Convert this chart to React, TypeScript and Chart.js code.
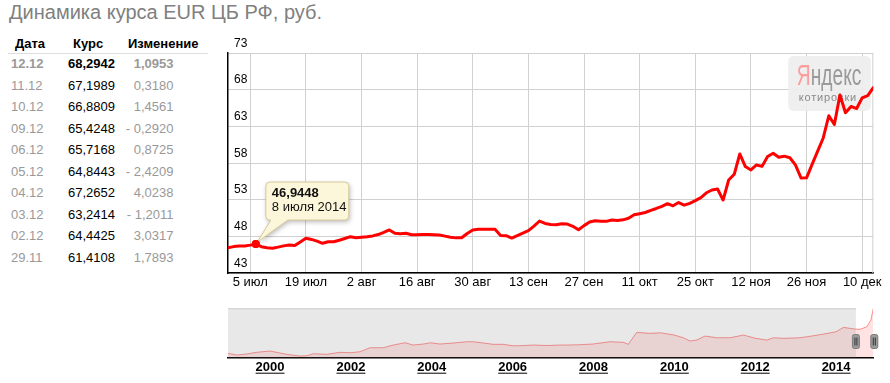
import React, { useEffect, useRef } from "react";
import { Chart, registerables } from "chart.js";

Chart.register(...registerables);

const FONT = 'Arial, "Liberation Sans", Helvetica, sans-serif';
Chart.defaults.font.family = FONT;

const titleText = "Динамика курса EUR ЦБ РФ, руб.";
const tableHeaders = ["Дата", "Курс", "Изменение"];
const tableDates = ["12.12", "11.12", "10.12", "09.12", "06.12", "05.12", "04.12", "03.12", "02.12", "29.11"];
const tableRates = ["68,2942", "67,1989", "66,8809", "65,4248", "65,7168", "64,8443", "67,2652", "63,2414", "64,4425", "61,4108"];
const tableChanges = ["1,0953", "0,3180", "1,4561", "- 0,2920", "0,8725", "- 2,4209", "4,0238", "- 1,2011", "3,0317", "1,7893"];

// Daily (business day) EUR rate, index 0 .. 116
const rates = [
  46.45, 46.6, 46.68, 46.68, 46.8, 46.9448, 46.59, 46.45, 46.37, 46.53,
  46.7, 46.82, 46.75, 47.23, 47.73, 47.58, 47.35, 47.05, 47.27, 47.27,
  47.46, 47.7, 47.95, 47.8, 47.88, 47.95, 48.06, 48.24, 48.54, 48.87,
  48.41, 48.36, 48.41, 48.22, 48.21, 48.25, 48.26, 48.22, 48.18, 48.03,
  47.87, 47.79, 47.8, 48.39, 48.86, 48.96, 48.98, 48.97, 48.95, 48.11,
  48.09, 47.77, 48.1, 48.44, 48.77, 49.4, 50.09, 49.76, 49.61, 49.57,
  49.72, 49.67, 49.37, 48.89, 49.46, 49.95, 50.13, 50.06, 50.04, 50.23,
  50.17, 50.25, 50.47, 50.94, 51.09, 51.25, 51.54, 51.8, 52.08, 52.45,
  52.16, 52.61, 52.25, 52.5, 52.87, 53.27, 53.94, 54.32, 54.46, 52.95,
  55.68, 56.46, 59.23, 57.52, 57.05, 57.73, 57.54, 58.89, 59.32, 58.78,
  58.93, 58.71, 57.74, 55.96, 55.98, 57.82, 59.6215, 61.4108, 64.4425, 63.2414,
  67.2652, 64.8443, 65.7168, 65.4248, 66.8809, 67.1989, 68.2942,
];
const tickIndices = [4, 14, 24, 34, 44, 54, 64, 74, 84, 94, 104, 114];
const tickLabels = ["5 июл", "19 июл", "2 авг", "16 авг", "30 авг", "13 сен", "27 сен", "11 окт", "25 окт", "12 ноя", "26 ноя", "10 дек"];
const yTicks = [43, 48, 53, 58, 63, 68, 73];
const highlightIndex = 5;
const highlightDate = "8 июля 2014";

// Navigator (long history)
const navYears = [
  1998.96, 1999.18, 1999.42, 1999.67, 2000.0, 2000.21, 2000.41, 2000.74, 2000.91, 2001.07,
  2001.4, 2001.57, 2001.73, 2001.98, 2002.23, 2002.47, 2002.8, 2003.05, 2003.34, 2003.54,
  2003.79, 2003.97, 2004.2, 2004.53, 2004.87, 2005.03, 2005.28, 2005.52, 2005.77, 2006.0,
  2006.18, 2006.51, 2006.85, 2007.17, 2007.34, 2007.65, 2007.98, 2008.41, 2008.74, 2008.86,
  2009.07, 2009.4, 2009.65, 2010.0, 2010.22, 2010.39, 2010.55, 2010.76, 2011.05, 2011.38,
  2011.71, 2012.01, 2012.29, 2012.45, 2012.7, 2013.11, 2013.44, 2013.69, 2014.0, 2014.18,
  2014.35, 2014.47, 2014.59, 2014.76, 2014.86, 2014.92,
];
const navValues = [
  23.4, 21.7, 22.7, 24.4, 25.7, 24.0, 22.4, 20.7, 21.0, 23.0,
  22.4, 23.4, 24.4, 24.0, 25.0, 29.0, 29.0, 31.7, 34.0, 31.7,
  32.7, 34.0, 32.7, 33.7, 35.0, 35.0, 33.7, 32.4, 32.4, 31.0,
  31.0, 31.7, 31.2, 31.7, 31.7, 32.0, 32.7, 35.0, 34.4, 32.4,
  44.4, 43.4, 44.0, 41.7, 39.0, 35.7, 36.7, 40.7, 39.0, 39.0,
  41.7, 38.4, 36.7, 39.0, 38.4, 39.0, 41.0, 42.7, 45.0, 49.4,
  48.4, 47.7, 47.4, 50.0, 56.7, 68.3,
];
const navYearTicks = [2000, 2002, 2004, 2006, 2008, 2010, 2012, 2014];
const navMin = 1998.96;
const navMax = 2014.92;
const navSelectStart = 2014.49;

function roundRect(ctx: CanvasRenderingContext2D, x: number, y: number, w: number, h: number, r: number) {
  ctx.beginPath();
  ctx.moveTo(x + r, y);
  ctx.lineTo(x + w - r, y);
  ctx.arcTo(x + w, y, x + w, y + r, r);
  ctx.lineTo(x + w, y + h - r);
  ctx.arcTo(x + w, y + h, x + w - r, y + h, r);
  ctx.lineTo(x + r, y + h);
  ctx.arcTo(x, y + h, x, y + h - r, r);
  ctx.lineTo(x, y + r);
  ctx.arcTo(x, y, x + r, y, r);
  ctx.closePath();
}

const frameAndMarkPlugin = {
  id: "frameAndMark",
  beforeDatasetsDraw(chart: any) {
    const { ctx, chartArea: ca } = chart;
    ctx.save();
    // right border
    ctx.strokeStyle = "#d0d0d0";
    ctx.lineWidth = 1;
    ctx.beginPath();
    ctx.moveTo(ca.right - 0.5, ca.top);
    ctx.lineTo(ca.right - 0.5, ca.bottom);
    ctx.stroke();
    // watermark
    const x = ca.right - 85;
    const y = ca.top + 3;
    roundRect(ctx, x, y, 82.5, 55, 5);
    ctx.fillStyle = "rgba(238,238,238,0.92)";
    ctx.fill();
    ctx.save();
    ctx.font = `30px ${FONT}`;
    ctx.textBaseline = "alphabetic";
    ctx.textAlign = "left";
    ctx.translate(x + 8.5, y + 29);
    ctx.scale(0.64, 1);
    ctx.fillStyle = "#ff9c9c";
    ctx.fillText("Я", 0, 0);
    const wY = ctx.measureText("Я").width;
    ctx.fillStyle = "#9a9a9a";
    ctx.fillText("ндекс", wY, 0);
    ctx.restore();
    ctx.font = `11px ${FONT}`;
    ctx.fillStyle = "#8a8a8a";
    ctx.textAlign = "left";
    ctx.textBaseline = "alphabetic";
    (ctx as any).letterSpacing = "0.8px";
    ctx.fillText("котировки", x + 10.5, y + 44.5);
    (ctx as any).letterSpacing = "0px";
    ctx.restore();
  },
};

const calloutPlugin = {
  id: "callout",
  afterDatasetsDraw(chart: any) {
    const meta = chart.getDatasetMeta(0);
    const pt = meta.data[highlightIndex];
    if (!pt) return;
    const px = pt.x;
    const py = pt.y;
    const { ctx } = chart;
    const bx = px + 10;
    const by = py - 62;
    const bw = 83;
    const bh = 38;
    const r = 4;
    ctx.save();
    ctx.beginPath();
    ctx.moveTo(bx + r, by);
    ctx.lineTo(bx + bw - r, by);
    ctx.arcTo(bx + bw, by, bx + bw, by + r, r);
    ctx.lineTo(bx + bw, by + bh - r);
    ctx.arcTo(bx + bw, by + bh, bx + bw - r, by + bh, r);
    ctx.lineTo(bx + 22, by + bh);
    ctx.lineTo(px + 1.5, py - 2);
    ctx.lineTo(bx + 5, by + bh);
    ctx.lineTo(bx + r, by + bh);
    ctx.arcTo(bx, by + bh, bx, by + bh - r, r);
    ctx.lineTo(bx, by + r);
    ctx.arcTo(bx, by, bx + r, by, r);
    ctx.closePath();
    ctx.shadowColor = "rgba(0,0,0,0.28)";
    ctx.shadowBlur = 5;
    ctx.shadowOffsetX = 1;
    ctx.shadowOffsetY = 2;
    ctx.fillStyle = "#fcf7da";
    ctx.fill();
    ctx.shadowColor = "transparent";
    ctx.strokeStyle = "#d6c99a";
    ctx.lineWidth = 1;
    ctx.stroke();
    // redraw point
    ctx.beginPath();
    ctx.arc(px, py, 4, 0, Math.PI * 2);
    ctx.fillStyle = "#ff0000";
    ctx.fill();
    ctx.fillStyle = "#111";
    ctx.textAlign = "left";
    ctx.textBaseline = "middle";
    ctx.font = `bold 13px ${FONT}`;
    const val = rates[highlightIndex].toFixed(4).replace(".", ",");
    ctx.fillText(val, bx + 6, by + 11);
    ctx.font = `13px ${FONT}`;
    ctx.fillText(highlightDate, bx + 6, by + 25.5);
    ctx.restore();
  },
};

const navPlugin = {
  id: "navOverlay",
  afterDatasetsDraw(chart: any) {
    const { ctx, chartArea: ca, scales } = chart;
    const xs = scales.x.getPixelForValue(navSelectStart);
    ctx.save();
    ctx.fillStyle = "rgba(128,128,128,0.18)";
    ctx.fillRect(ca.left, ca.top, xs - ca.left, ca.bottom - ca.top);
    ctx.strokeStyle = "#cccccc";
    ctx.lineWidth = 1;
    ctx.beginPath();
    ctx.moveTo(ca.left, ca.top + 0.5);
    ctx.lineTo(xs, ca.top + 0.5);
    ctx.stroke();
    const cy = (ca.top + ca.bottom) / 2 + 8.5;
    [xs, ca.right + 1].forEach((hx: number) => {
      roundRect(ctx, hx - 3.5, cy - 7, 7, 14, 2);
      ctx.fillStyle = "#9c9c9c";
      ctx.fill();
      ctx.strokeStyle = "#7a7a7a";
      ctx.stroke();
      ctx.fillStyle = "#333";
      ctx.fillRect(hx - 1.5, cy - 4, 1, 8);
      ctx.fillRect(hx + 0.5, cy - 4, 1, 8);
    });
    ctx.restore();
  },
  afterDraw(chart: any) {
    const { ctx, scales } = chart;
    const sx = scales.x;
    ctx.save();
    ctx.font = `bold 13px ${FONT}`;
    ctx.fillStyle = "#000";
    sx.ticks.forEach((t: any) => {
      const px = sx.getPixelForValue(t.value);
      const w = ctx.measureText(String(t.value)).width;
      ctx.fillRect(px - w / 2, sx.top + 15, w, 1);
    });
    ctx.restore();
  },
};

export default function App() {
  const mainRef = useRef<HTMLCanvasElement>(null);
  const navRef = useRef<HTMLCanvasElement>(null);

  useEffect(() => {
    const main = new Chart(mainRef.current as HTMLCanvasElement, {
      type: "line",
      data: {
        datasets: [
          {
            data: rates.map((v, i) => ({ x: i, y: v })),
            borderColor: "#ff0000",
            borderWidth: 3,
            borderJoinStyle: "round",
            borderCapStyle: "round",
            tension: 0,
            pointRadius: (c: any) => (c.dataIndex === highlightIndex ? 4 : 0),
            pointBackgroundColor: "#ff0000",
            pointBorderWidth: 0,
            fill: false,
          } as any,
        ],
      },
      options: {
        animation: false,
        responsive: false,
        maintainAspectRatio: false,
        events: [],
        layout: { padding: { left: 0, right: 16.7, top: 23, bottom: 7.4 } },
        plugins: { legend: { display: false }, tooltip: { enabled: false } },
        scales: {
          x: {
            type: "linear",
            min: 0,
            max: 116,
            afterBuildTicks: (s: any) => {
              s.ticks = tickIndices.map((v) => ({ value: v }));
            },
            ticks: {
              autoSkip: false,
              maxRotation: 0,
              padding: 2,
              color: "#000",
              font: { size: 13, family: FONT },
              callback: (v: any) => {
                const k = tickIndices.indexOf(Number(v));
                return k >= 0 ? tickLabels[k] : "";
              },
            },
            grid: { color: "#d0d0d0", lineWidth: 1, drawTicks: false },
            border: { color: "#000", width: 1.5 },
          },
          y: {
            type: "linear",
            min: 43,
            max: 73,
            afterBuildTicks: (s: any) => {
              s.ticks = yTicks.map((v) => ({ value: v }));
            },
            ticks: {
              mirror: true,
              padding: 6,
              labelOffset: -9.5,
              color: "#000",
              font: { size: 12, family: FONT },
              callback: (v: any) => String(v),
            },
            grid: { color: "#d0d0d0", lineWidth: 1, drawTicks: false },
            border: { color: "#000", width: 1.5 },
          },
        },
      },
      plugins: [frameAndMarkPlugin, calloutPlugin],
    } as any);

    const nav = new Chart(navRef.current as HTMLCanvasElement, {
      type: "line",
      data: {
        datasets: [
          {
            data: navYears.map((x, i) => ({ x, y: navValues[i] })),
            borderColor: "rgba(255,0,0,0.42)",
            borderWidth: 1,
            backgroundColor: "rgba(255,0,0,0.11)",
            fill: "start",
            pointRadius: 0,
            tension: 0,
          } as any,
        ],
      },
      options: {
        animation: false,
        responsive: false,
        maintainAspectRatio: false,
        events: [],
        layout: { padding: { left: 12, right: 16.7, top: 8.3, bottom: 5.7 } },
        plugins: { legend: { display: false }, tooltip: { enabled: false } },
        scales: {
          x: {
            type: "linear",
            min: navMin,
            max: navMax,
            z: 1,
            afterBuildTicks: (s: any) => {
              s.ticks = navYearTicks.map((v) => ({ value: v }));
            },
            ticks: {
              autoSkip: false,
              maxRotation: 0,
              padding: 2,
              color: "#000",
              font: { size: 13, weight: "bold", family: FONT },
              callback: (v: any) => String(v),
            },
            grid: { display: false, drawTicks: false },
            border: { color: "#000", width: 1.5 },
          },
          y: { display: false, min: 19, max: 68.5 },
        },
      },
      plugins: [navPlugin],
    } as any);

    return () => {
      main.destroy();
      nav.destroy();
    };
  }, []);

  const rowTop = (i: number) => 64 + 21.5 * i - 8;

  return (
    <div
      style={{
        position: "absolute",
        left: 0,
        top: 0,
        width: 890,
        height: 383,
        background: "#fff",
        overflow: "hidden",
        fontFamily: FONT,
      }}
    >
      <div
        style={{
          position: "absolute",
          left: 9,
          top: 0,
          fontSize: 20,
          lineHeight: "25px",
          color: "#808080",
          whiteSpace: "nowrap",
        }}
      >
        {titleText}
      </div>
      <div style={{ position: "absolute", left: 15, top: 35.5, fontSize: 13, lineHeight: "16px", fontWeight: "bold", color: "#000" }}>
        {tableHeaders[0]}
      </div>
      <div style={{ position: "absolute", left: 73, top: 35.5, fontSize: 13, lineHeight: "16px", fontWeight: "bold", color: "#000" }}>
        {tableHeaders[1]}
      </div>
      <div style={{ position: "absolute", left: 128, top: 35.5, fontSize: 13, lineHeight: "16px", fontWeight: "bold", color: "#000" }}>
        {tableHeaders[2]}
      </div>
      <div style={{ position: "absolute", left: 8, top: 53, width: 200, height: 1, background: "#dddddd" }} />
      {tableDates.map((d, i) => (
        <React.Fragment key={d}>
          <div
            style={{
              position: "absolute",
              left: 11,
              top: rowTop(i),
              fontSize: 13,
              lineHeight: "16px",
              color: "#999",
              fontWeight: i === 0 ? "bold" : "normal",
            }}
          >
            {d}
          </div>
          <div
            style={{
              position: "absolute",
              left: 68,
              top: rowTop(i),
              fontSize: 13,
              lineHeight: "16px",
              color: "#000",
              fontWeight: i === 0 ? "bold" : "normal",
            }}
          >
            {tableRates[i]}
          </div>
          <div
            style={{
              position: "absolute",
              left: 100,
              width: 73.5,
              textAlign: "right",
              top: rowTop(i),
              fontSize: 13,
              lineHeight: "16px",
              color: "#999",
              fontWeight: i === 0 ? "bold" : "normal",
              whiteSpace: "nowrap",
            }}
          >
            {tableChanges[i]}
          </div>
        </React.Fragment>
      ))}
      <canvas
        ref={mainRef}
        width={674}
        height={270}
        style={{ position: "absolute", left: 216, top: 30, width: 674, height: 270 }}
      />
      <canvas
        ref={navRef}
        width={674}
        height={83}
        style={{ position: "absolute", left: 216, top: 300, width: 674, height: 83 }}
      />
    </div>
  );
}
